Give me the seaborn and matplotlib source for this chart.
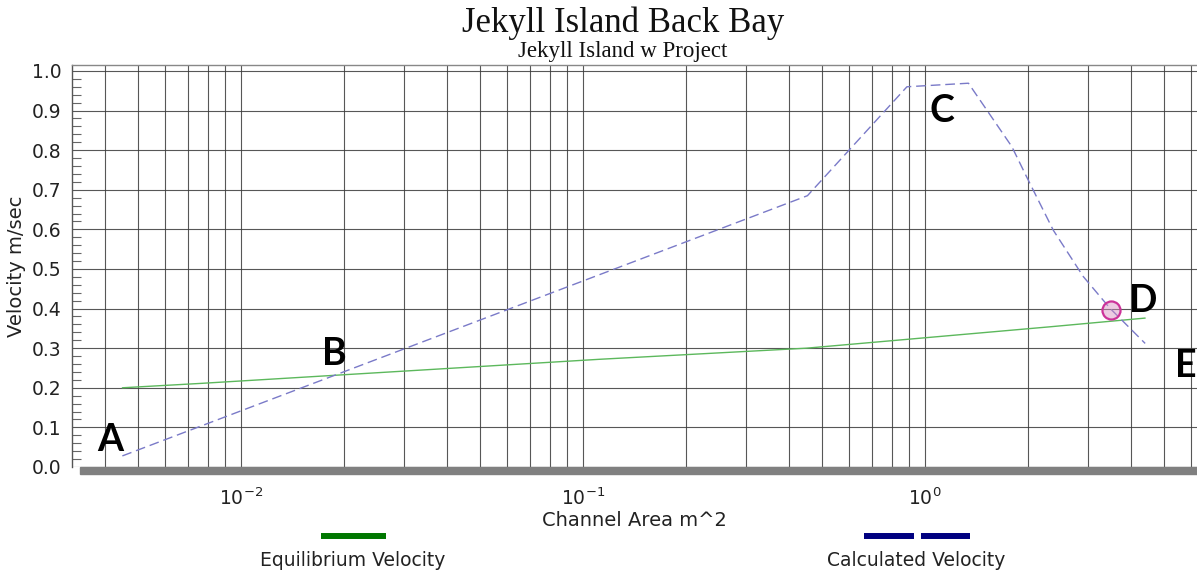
import matplotlib
matplotlib.use("Agg")
import matplotlib.pyplot as plt
from matplotlib.lines import Line2D
from matplotlib.patches import Rectangle
from matplotlib.ticker import LogLocator, MultipleLocator, FormatStrFormatter, NullFormatter
import seaborn as sns
import pandas as pd


# calculated velocity (dashed curve)
calc_area = [0.0045, 0.453, 0.885, 1.339, 1.793, 1.98, 2.37, 2.90, 3.47, 4.40]
calc_vel = [0.028, 0.685, 0.960, 0.969, 0.809, 0.733, 0.598, 0.481, 0.401, 0.312]

# equilibrium velocity (solid green)
eq_area = [0.0045, 0.0076, 0.112, 0.45, 2.32, 4.40]
eq_vel = [0.200, 0.211, 0.272, 0.300, 0.354, 0.376]

# highlighted point
point_area = [3.50]
point_vel = [0.397]

# letter annotations
letters = ["A", "B", "C", "D", "E"]
letter_area = [0.00414, 0.0187, 1.12, 4.34, 5.80]
letter_vel = [0.068, 0.285, 0.90, 0.419, 0.255]


calc = pd.DataFrame({"area": calc_area, "vel": calc_vel})
eq = pd.DataFrame({"area": eq_area, "vel": eq_vel})

sns.set_style("white")
plt.rcParams["font.family"] = ["DejaVu Sans"]

fig = plt.figure(figsize=(11.97, 5.71), dpi=100)
ax = fig.add_axes([72 / 1197, 1 - 467 / 571, 1 - 72 / 1197, 402 / 571])

ax.set_xscale("log")
ax.set_xlim(10 ** -2.494, 10 ** 0.795)
ax.set_ylim(0, 1.015)

sns.lineplot(data=eq, x="area", y="vel", ax=ax, color="#5cb85c", lw=1.0, sort=False, zorder=3)
sns.lineplot(data=calc, x="area", y="vel", ax=ax, color="#7a7ac8", lw=1.0, sort=False,
             linestyle=(0, (7, 3.5)), zorder=3)
ax.plot(point_area, point_vel, "o", ms=13, mfc=(0.85, 0.55, 0.75, 0.45), mec="#cc3399",
        mew=1.6, zorder=4)

for t, xa, yv in zip(letters, letter_area, letter_vel):
    ax.text(xa, yv, t, fontsize=27, fontweight="bold", family=["Lato", "DejaVu Sans"],
            ha="center", va="center", color="black", zorder=5)

# grid and ticks
ax.xaxis.set_major_locator(LogLocator(base=10, numticks=10))
ax.xaxis.set_minor_locator(LogLocator(base=10, subs=range(2, 10), numticks=20))
ax.xaxis.set_minor_formatter(NullFormatter())
ax.yaxis.set_major_locator(MultipleLocator(0.1))
ax.yaxis.set_minor_locator(MultipleLocator(0.02))
ax.yaxis.set_major_formatter(FormatStrFormatter("%.1f"))

ax.xaxis.grid(True, which="both", color="#3a3a3a", lw=0.8, alpha=0.85)
ax.yaxis.grid(True, which="major", color="#3a3a3a", lw=0.8, alpha=0.85)

ax.tick_params(axis="x", which="major", direction="out", length=10, width=1,
               color="#333333", pad=5, labelsize=13.5, labelcolor="#222222")
ax.tick_params(axis="x", which="minor", length=0)
ax.tick_params(axis="y", which="major", direction="out", length=6.5, width=0.8,
               color="#555555", pad=1, labelsize=13.5, labelcolor="#222222")
ax.tick_params(axis="y", which="minor", direction="in", length=6.5, width=0.8,
               color="#666666", left=True)

for side in ["right", "bottom"]:
    ax.spines[side].set_visible(False)
ax.spines["top"].set_color("#888888")
ax.spines["top"].set_linewidth(1.0)
ax.spines["left"].set_color("#555555")
ax.spines["left"].set_linewidth(1.0)

# thick grey base bar
ax.add_patch(Rectangle((0.0071, -0.0174), 0.993, 0.0174, transform=ax.transAxes,
                       clip_on=False, color="#808080", zorder=2))

ax.set_xlabel("Channel Area m^2", fontsize=14, color="#222222", labelpad=1)
ax.set_ylabel("Velocity m/sec", fontsize=14, color="#222222", labelpad=4)

# titles
fig.text(623 / 1197, 1 - 23 / 571, "Jekyll Island Back Bay", fontsize=25,
         family=["Liberation Serif"], ha="center", va="center", color="#111111")
fig.text(623 / 1197, 1 - 52 / 571, "Jekyll Island w Project", fontsize=16.5,
         family=["Liberation Serif"], ha="center", va="center", color="#111111")

# legend below the plot
fig.add_artist(Line2D([321 / 1197, 386 / 1197], [1 - 536 / 571] * 2, color="#007700",
                      lw=4.3, solid_capstyle="butt"))
fig.text(353 / 1197, 1 - 560 / 571, "Equilibrium Velocity", fontsize=13.5,
         ha="center", va="center", color="#222222")
fig.add_artist(Line2D([864 / 1197, 970 / 1197], [1 - 536 / 571] * 2, color="#000080",
                      lw=4.3, linestyle=(0, (8.37, 1.17)), dash_capstyle="butt"))
fig.text(916 / 1197, 1 - 560 / 571, "Calculated Velocity", fontsize=13.5,
         ha="center", va="center", color="#222222")

fig.savefig("out.png", dpi=100)
